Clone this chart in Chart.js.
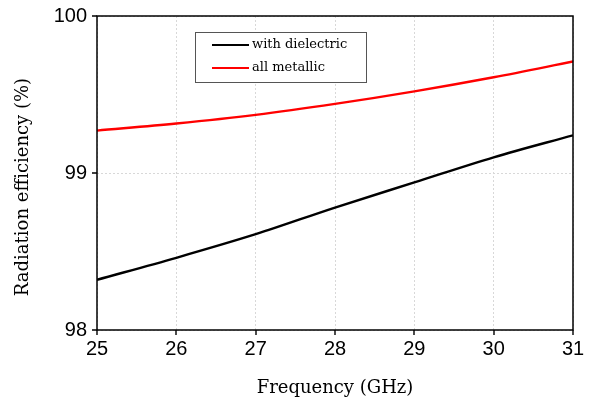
<!DOCTYPE html>
<html>
<head>
<meta charset="utf-8">
<script src="https://cdn.jsdelivr.net/npm/chart.js@4/dist/chart.umd.min.js"></script>
<style>
html,body{margin:0;padding:0;background:#fff;}
#wrap{width:596px;height:402px;position:relative;}
</style>
</head>
<body>
<div id="wrap"><canvas id="c" width="596" height="402"></canvas></div>
<script>
const frequency = [25, 26, 27, 28, 29, 30, 31];
const withDielectric = [98.32, 98.46, 98.61, 98.78, 98.94, 99.10, 99.24];
const allMetallic = [99.27, 99.315, 99.37, 99.44, 99.52, 99.61, 99.71];
const seriesLabels = ['with dielectric', 'all metallic'];
const seriesColors = ['#000000', '#ff0000'];
const yTicks = [98, 99, 100];
const xTitle = 'Frequency (GHz)';
const yTitle = 'Radiation efficiency (%)';

const frame = {
  id: 'frame',
  afterDatasetsDraw(chart) {
    const a = chart.chartArea, ctx = chart.ctx;
    ctx.save();
    ctx.strokeStyle = '#000';
    ctx.lineWidth = 1.5;
    ctx.strokeRect(a.left, a.top, a.right - a.left, a.bottom - a.top);
    ctx.lineWidth = 1.4;
    ctx.beginPath();
    chart.scales.x.ticks.forEach(t => {
      const px = Math.round(chart.scales.x.getPixelForValue(t.value));
      ctx.moveTo(px, a.bottom);
      ctx.lineTo(px, a.bottom + 5);
    });
    chart.scales.y.ticks.forEach(t => {
      const py = Math.round(chart.scales.y.getPixelForValue(t.value));
      ctx.moveTo(a.left, py);
      ctx.lineTo(a.left - 5, py);
    });
    ctx.stroke();
    ctx.restore();
  }
};

const yTitlePlugin = {
  id: 'yTitlePlugin',
  afterDraw(chart) {
    const ctx = chart.ctx;
    ctx.save();
    ctx.translate(23, 187);
    ctx.rotate(-Math.PI / 2);
    ctx.font = '18px "DejaVu Serif"';
    ctx.fillStyle = '#000';
    ctx.textAlign = 'center';
    ctx.textBaseline = 'middle';
    ctx.fillText(yTitle, 0, 0);
    ctx.restore();
  }
};

const boxLegend = {
  id: 'boxLegend',
  afterDraw(chart) {
    const ctx = chart.ctx;
    const x0 = 195, y0 = 32, w = 171, h = 50;
    ctx.save();
    ctx.fillStyle = '#fff';
    ctx.fillRect(x0, y0, w, h);
    ctx.strokeStyle = '#555';
    ctx.lineWidth = 1;
    ctx.strokeRect(x0 + 0.5, y0 + 0.5, w, h);
    ctx.font = '13px "DejaVu Serif"';
    ctx.textBaseline = 'middle';
    chart.data.datasets.forEach((ds, i) => {
      const y = 45 + i * 23;
      ctx.strokeStyle = ds.borderColor;
      ctx.lineWidth = 2;
      ctx.beginPath();
      ctx.moveTo(212, y);
      ctx.lineTo(249, y);
      ctx.stroke();
      ctx.fillStyle = '#000';
      ctx.fillText(ds.label, 252, y);
    });
    ctx.restore();
  }
};

new Chart(document.getElementById('c'), {
  type: 'line',
  data: {
    datasets: [
      { label: seriesLabels[0], data: frequency.map((f, i) => ({x: f, y: withDielectric[i]})),
        borderColor: seriesColors[0], borderWidth: 2.4, pointRadius: 0, cubicInterpolationMode: 'monotone', fill: false },
      { label: seriesLabels[1], data: frequency.map((f, i) => ({x: f, y: allMetallic[i]})),
        borderColor: seriesColors[1], borderWidth: 2.4, pointRadius: 0, cubicInterpolationMode: 'monotone', fill: false }
    ]
  },
  options: {
    responsive: false,
    animation: false,
    devicePixelRatio: 1,
    layout: { padding: { left: 0, top: 16, right: 23, bottom: 0 } },
    plugins: { legend: { display: false }, tooltip: { enabled: false } },
    scales: {
      x: {
        type: 'linear', min: 25, max: 31,
        afterFit(s) { s.height = 72; s.paddingLeft = 0; s.paddingRight = 0; },
        ticks: { stepSize: 1, color: '#000', font: { family: '"Liberation Sans", Arial', size: 20 }, padding: 7, maxRotation: 0 },
        grid: { color: '#d8d8d8', lineWidth: 1, drawTicks: false },
        border: { display: false, dash: [2, 2] },
        title: { display: true, text: xTitle, color: '#000', font: { family: '"DejaVu Serif"', size: 18 }, padding: { top: 0, bottom: 3 } }
      },
      y: {
        type: 'linear', min: 98, max: 100,
        afterFit(s) { s.width = 97; s.paddingTop = 0; s.paddingBottom = 0; },
        afterBuildTicks(s) { s.ticks = yTicks.map(v => ({value: v})); },
        ticks: { color: '#000', font: { family: '"Liberation Sans", Arial', size: 20 }, padding: 10 },
        grid: { color: '#d8d8d8', lineWidth: 1, drawTicks: false },
        border: { display: false, dash: [2, 2] },
        title: { display: false }
      }
    }
  },
  plugins: [frame, yTitlePlugin, boxLegend]
});
</script>
</body>
</html>
